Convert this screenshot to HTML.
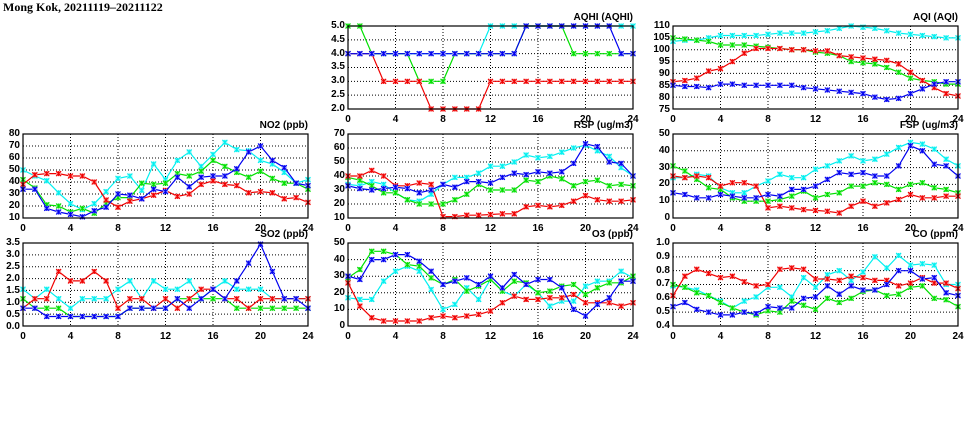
<!DOCTYPE html>
<html><head><meta charset="utf-8">
<style>
body{margin:0;background:#fff;width:975px;height:447px;position:relative;overflow:hidden;font-family:"Liberation Sans",sans-serif;font-weight:bold;color:#000}
.title{position:absolute;left:3px;top:0px;font-family:"Liberation Serif",serif;font-size:12px;font-weight:bold}
.p{position:absolute;width:285px}
.yl{position:absolute;right:100%;margin-right:3px;top:-6px;bottom:-6px;display:flex;flex-direction:column;justify-content:space-between;text-align:right;font-size:10px}
.yl span{height:12px;line-height:12px}
.xl{position:absolute;left:-10px;width:305px;bottom:-17px;display:flex;justify-content:space-between;font-size:10px}
.xl span{width:20px;text-align:center;line-height:12px}
.un{position:absolute;right:0;top:-14px;font-size:10px;white-space:nowrap}
svg{position:absolute;left:0;top:0}
</style></head><body>
<div class="title">Mong Kok, 20211119–20211122</div>
<svg id="s" width="975" height="447"></svg>

<div class="p" style="left:348px;top:26px;height:83px"><div class="un">AQHI (AQHI)</div>
<div class="yl"><span>5.0</span><span>4.5</span><span>4.0</span><span>3.5</span><span>3.0</span><span>2.5</span><span>2.0</span></div>
<div class="xl"><span>0</span><span>4</span><span>8</span><span>12</span><span>16</span><span>20</span><span>24</span></div></div>

<div class="p" style="left:673px;top:26px;height:83px"><div class="un">AQI (AQI)</div>
<div class="yl"><span>110</span><span>105</span><span>100</span><span>95</span><span>90</span><span>85</span><span>80</span><span>75</span></div>
<div class="xl"><span>0</span><span>4</span><span>8</span><span>12</span><span>16</span><span>20</span><span>24</span></div></div>

<div class="p" style="left:23px;top:134px;height:84px"><div class="un">NO2 (ppb)</div>
<div class="yl"><span>80</span><span>70</span><span>60</span><span>50</span><span>40</span><span>30</span><span>20</span><span>10</span></div>
<div class="xl"><span>0</span><span>4</span><span>8</span><span>12</span><span>16</span><span>20</span><span>24</span></div></div>

<div class="p" style="left:348px;top:134px;height:84px"><div class="un">RSP (ug/m3)</div>
<div class="yl"><span>70</span><span>60</span><span>50</span><span>40</span><span>30</span><span>20</span><span>10</span></div>
<div class="xl"><span>0</span><span>4</span><span>8</span><span>12</span><span>16</span><span>20</span><span>24</span></div></div>

<div class="p" style="left:673px;top:134px;height:84px"><div class="un">FSP (ug/m3)</div>
<div class="yl"><span>50</span><span>40</span><span>30</span><span>20</span><span>10</span><span>0</span></div>
<div class="xl"><span>0</span><span>4</span><span>8</span><span>12</span><span>16</span><span>20</span><span>24</span></div></div>

<div class="p" style="left:23px;top:243px;height:83px"><div class="un">SO2 (ppb)</div>
<div class="yl"><span>3.5</span><span>3.0</span><span>2.5</span><span>2.0</span><span>1.5</span><span>1.0</span><span>0.5</span><span>0.0</span></div>
<div class="xl"><span>0</span><span>4</span><span>8</span><span>12</span><span>16</span><span>20</span><span>24</span></div></div>

<div class="p" style="left:348px;top:243px;height:83px"><div class="un">O3 (ppb)</div>
<div class="yl"><span>50</span><span>40</span><span>30</span><span>20</span><span>10</span><span>0</span></div>
<div class="xl"><span>0</span><span>4</span><span>8</span><span>12</span><span>16</span><span>20</span><span>24</span></div></div>

<div class="p" style="left:673px;top:243px;height:83px"><div class="un">CO (ppm)</div>
<div class="yl"><span>1.0</span><span>0.9</span><span>0.8</span><span>0.7</span><span>0.6</span><span>0.5</span><span>0.4</span></div>
<div class="xl"><span>0</span><span>4</span><span>8</span><span>12</span><span>16</span><span>20</span><span>24</span></div></div>

<script>
var P=[
{x:348,y:26,h:83,min:2,max:5,n:6,d:{
c:[4,4,4,4,4,4,4,4,4,4,4,4,5,5,5,5,5,5,5,5,5,5,5,5,5],
g:[5,5,4,4,4,4,3,3,3,4,4,4,4,4,4,5,5,5,5,4,4,4,4,4,4],
r:[4,4,4,3,3,3,3,2,2,2,2,2,3,3,3,3,3,3,3,3,3,3,3,3,3],
b:[4,4,4,4,4,4,4,4,4,4,4,4,4,4,4,5,5,5,5,5,5,5,5,4,4]}},
{x:673,y:26,h:83,min:75,max:110,n:7,d:{
c:[103.5,104,104,105,106,106,106,106,106.5,107,107,107,107.5,108,109,110,109.5,109,108,107,106.5,106,105.5,105,105],
g:[105,104.5,104,103.5,102,102,102,101.5,101,100.5,100,100,99,98.5,97.5,95,94.5,94,92.5,90.5,88,87,86.5,85.5,85.5],
r:[86.5,87,88,91,92,95,98.5,100.5,100.5,100.5,100,100,99.5,99.5,97.5,97,96.5,96,95.5,94,90.5,87,84,81.5,80.5],
b:[85,84.5,84.5,84,85.5,85.5,85,85,85,85,85,84,83.5,83,82.5,82,81.5,80,79,79.5,81.5,83.5,85.5,86.5,86.5]}},
{x:23,y:134,h:84,min:10,max:80,n:7,d:{
c:[50,45,41,31,22,17,22,32,43,45,33,55,42,58,65,53,63,73,67,66,58,55,48,39,42],
g:[42,35,21,20,15,18,14,22,27,27,39,38,39,47,45,49,58,53,48,44,49,43,39,39,34],
r:[38,46,47,47,45,45,40,25,19,24,26,29,33,28,30,38,41,38,37,31,32,31,26,27,23],
b:[34,34,18,15,13,11,16,19,30,29,26,34,32,44,36,44,45,45,51,65,70,58,52,39,37]}},
{x:348,y:134,h:84,min:10,max:70,n:6,d:{
c:[34,33,36,34,28,23,22,27,34,39,39,42,47,47,50,55,53,54,57,60,62,58,54,46,40],
g:[39,37,33,28,28,23,20,20,20,23,27,34,30,30,30,37,36,40,38,33,36,37,33,34,33],
r:[40,40,44,40,33,33,35,34,11,11,12,12,12.5,13,13,18,19,18,19,22,26,23,22,22,23],
b:[33,31,30,31,32,31,28,30,34,32,36,36,35,39,42,41,43,42,43,49,63,61,50,49,40]}},
{x:673,y:134,h:84,min:0,max:50,n:5,d:{
c:[24,24,26,25,18,15,15,19,22,26,24,24,29,31,34,37,34,35,38,42,45,44,41,35,31],
g:[31,28,23,18,17,12,10,10,10,11,13,16,12,14,15,19,19,21,20,17,20,21,18,17,15],
r:[25,24,25,24,19,21,21,19,6,7,6,5,4.5,4,3,7,10,7,9,11,14,12,12,13,13],
b:[15,14,12,12,14,13,12,12,14,13,17,17,19,23,27,26,27,25,25,31,43,40,32,31,25]}},
{x:23,y:243,h:83,min:0,max:3.5,n:7,d:{
c:[1.55,1.15,1.55,1.15,0.75,1.15,1.15,1.15,1.55,1.9,1.15,1.9,1.55,1.55,1.9,1.15,1.55,1.9,1.55,1.55,1.55,1.15,1.15,1.15,1.15],
g:[1.15,0.75,0.75,0.75,0.4,0.4,0.4,0.4,0.4,0.75,0.75,0.75,0.75,1.15,1.15,1.15,1.15,1.15,0.75,0.75,0.75,0.75,0.75,0.75,0.75],
r:[0.75,1.15,1.15,2.3,1.9,1.9,2.3,1.9,0.75,1.15,1.15,0.75,1.15,0.75,1.15,1.55,1.55,1.15,1.15,0.75,1.15,1.15,1.15,1.15,1.15],
b:[0.75,0.75,0.4,0.4,0.4,0.4,0.4,0.4,0.4,0.75,0.75,0.75,0.75,1.15,0.75,1.15,1.55,1.15,1.9,2.65,3.45,2.3,1.15,1.15,0.75]}},
{x:348,y:243,h:83,min:0,max:50,n:5,d:{
c:[17,16,16,27,33,36,33,22,10,13,23,16,28,21,18,25,20,12,15,15,24,27,27,33,29],
g:[29,34,45,45,43,37,36,29,25,28,21,24,28,21,27,26,20,21,24,25,19,23,26,26,30],
r:[26,12,5,3,3,3,3,5,6,5,6,7,9,14,18,16,16,17,17,19,14,14,14,12,14],
b:[30,28,40,40,43,43,39,33,25,27,29,25,30,23,31,25,28,28,23,10,6,13,17,27,27]}},
{x:673,y:243,h:83,min:0.4,max:1.0,n:6,d:{
c:[0.69,0.68,0.66,0.62,0.58,0.53,0.58,0.61,0.68,0.68,0.61,0.75,0.68,0.77,0.80,0.73,0.79,0.90,0.82,0.91,0.84,0.85,0.84,0.70,0.70],
g:[0.70,0.68,0.64,0.62,0.57,0.53,0.50,0.48,0.51,0.50,0.58,0.55,0.52,0.60,0.57,0.60,0.65,0.66,0.62,0.63,0.68,0.69,0.60,0.59,0.54],
r:[0.62,0.76,0.81,0.78,0.75,0.76,0.72,0.69,0.70,0.81,0.82,0.81,0.74,0.74,0.73,0.76,0.75,0.73,0.73,0.69,0.71,0.75,0.71,0.71,0.67],
b:[0.54,0.57,0.52,0.50,0.48,0.48,0.50,0.49,0.54,0.53,0.53,0.60,0.61,0.69,0.63,0.69,0.66,0.66,0.70,0.80,0.80,0.74,0.75,0.64,0.62]}}
];
var col={c:['#00f0f0','#a0f8f8'],g:['#00e000','#a0f0a0'],r:['#f00000','#f8a0a0'],b:['#0000f0','#a0a0f8']};
var s='',W=285;
P.forEach(function(p){
 for(var i=1;i<p.n;i++){var y=p.y+p.h*i/p.n;s+='<line x1="'+p.x+'" x2="'+(p.x+W)+'" y1="'+y+'" y2="'+y+'" stroke="#000" stroke-width="1" stroke-dasharray="1,2"/>';}
 for(var i=1;i<6;i++){var x=p.x+W*i/6;s+='<line x1="'+x+'" x2="'+x+'" y1="'+p.y+'" y2="'+(p.y+p.h)+'" stroke="#000" stroke-width="1" stroke-dasharray="1,2"/>';}
 ['c','g','r','b'].forEach(function(k){
  var a=p.d[k],pts=[],m='';
  a.forEach(function(v,i){var x=p.x+W*i/24,y=p.y+p.h*(p.max-v)/(p.max-p.min);pts.push(x.toFixed(1)+','+y.toFixed(1));
   m+='<rect x="'+(x-2.5)+'" y="'+(y-2.5)+'" width="5" height="5" fill="'+col[k][1]+'"/><path d="M'+(x-2.5)+' '+(y-2.5)+'L'+(x+2.5)+' '+(y+2.5)+'M'+(x-2.5)+' '+(y+2.5)+'L'+(x+2.5)+' '+(y-2.5)+'M'+x+' '+(y-2.5)+'V'+(y+2.5)+'" stroke="'+col[k][0]+'" stroke-width="1.1"/>';});
  s+='<polyline points="'+pts.join(' ')+'" fill="none" stroke="'+col[k][0]+'" stroke-width="1.2"/>'+m;
 });
 s+='<rect x="'+p.x+'" y="'+p.y+'" width="'+W+'" height="'+p.h+'" fill="none" stroke="#000" stroke-width="1.2"/>';
});
document.getElementById('s').innerHTML=s;
</script>
</body></html>
